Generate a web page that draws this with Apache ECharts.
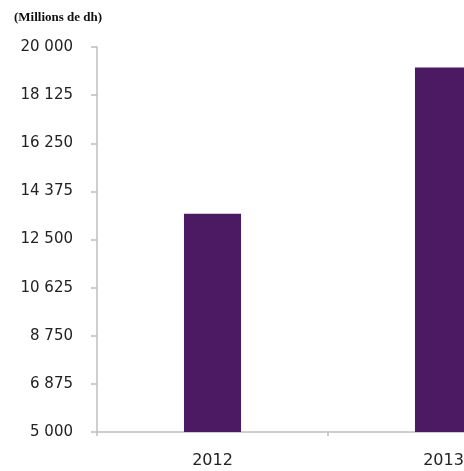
<!DOCTYPE html>
<html><head><meta charset="utf-8">
<script src="https://cdn.jsdelivr.net/npm/echarts@6/dist/echarts.min.js"></script>
<style>html,body{margin:0;padding:0;background:#fff}#c{width:464px;height:471px}</style>
</head><body><div id="c"></div>
<script>
const categories = ['2012', '2013'];
const values = [13500, 19200];
const yMin = 5000, yMax = 20000, yStep = 1875;
const unitLabel = '(Millions de dh)';

function fmt(v){ return String(Math.round(v)).replace(/\B(?=(\d{3})+(?!\d))/g, ' '); }

const chart = echarts.init(document.getElementById('c'), null, {renderer:'canvas'});
chart.setOption({
  animation:false,
  backgroundColor:'#ffffff',
  graphic:[{type:'text', left:14, top:11, style:{text:unitLabel, font:'bold 13px "Liberation Serif", serif', fill:'#111'}}],
  grid:{left:97, top:47, width:462, height:385, containLabel:false, outerBoundsMode:'none'},
  xAxis:{type:'category', data:categories,
    axisLine:{lineStyle:{color:'#bfbfbf', width:1.5}},
    axisTick:{show:true, length:4, lineStyle:{color:'#bfbfbf', width:1.5}},
    axisLabel:{margin:21, color:'#222', fontSize:16, fontFamily:'"DejaVu Sans", sans-serif'}},
  yAxis:{type:'value', min:yMin, max:yMax, interval:yStep,
    axisLine:{show:true, lineStyle:{color:'#bfbfbf', width:1.5}},
    axisTick:{show:true, length:6, lineStyle:{color:'#bfbfbf', width:1.5}},
    splitLine:{show:false},
    axisLabel:{margin:24, color:'#222', fontSize:15, fontFamily:'"DejaVu Sans", sans-serif', formatter:fmt}},
  series:[{type:'bar', data:values, barWidth:'24.7%', itemStyle:{color:'#4b1a63'}}]
});
</script></body></html>
